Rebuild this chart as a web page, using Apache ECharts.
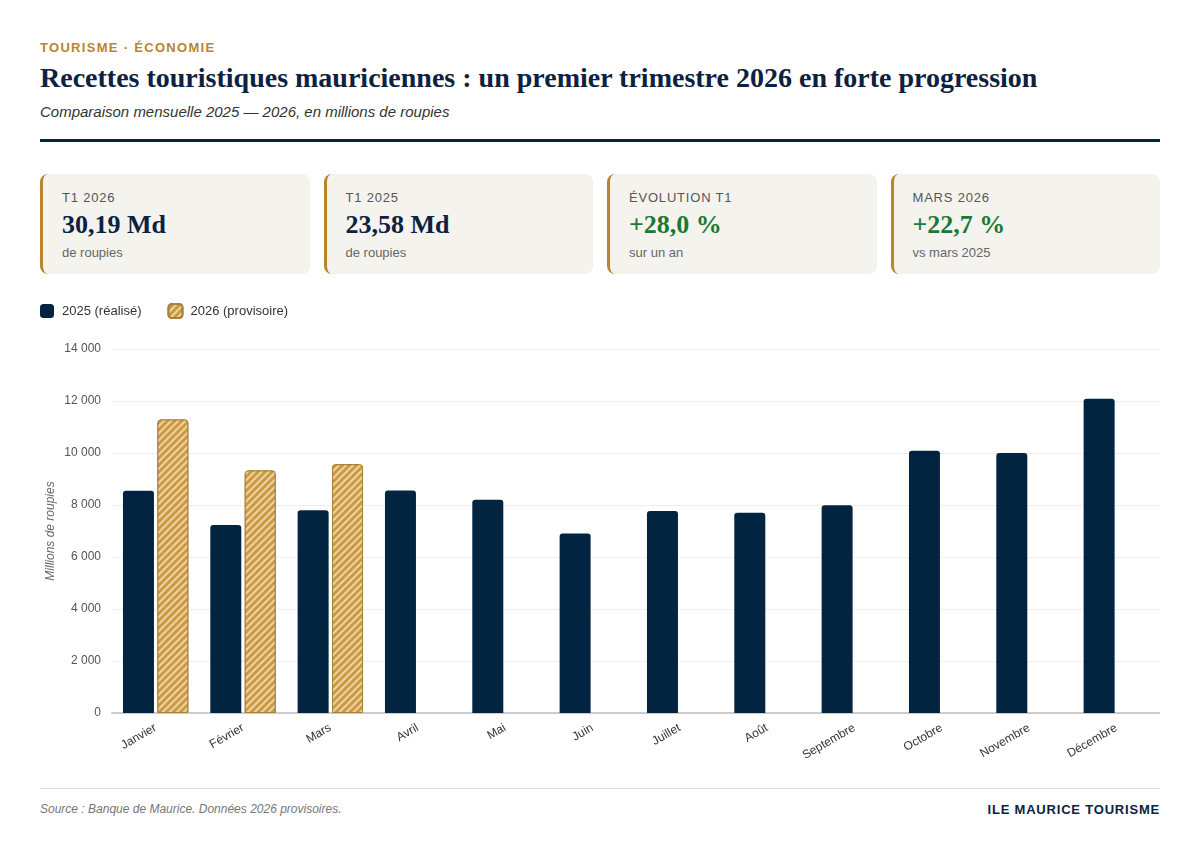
<!DOCTYPE html>
<html lang="fr">
<head>
  <meta charset="UTF-8">
  <title>Recettes touristiques mauriciennes</title>
  <style>
    * { margin: 0; padding: 0; box-sizing: border-box; }
    body { width: 1200px; height: 856px; background: #ffffff; font-family: "Liberation Sans", Arial, sans-serif; color: #0d2140; position: relative; }
    .page { position: absolute; left: 40px; right: 40px; top: 0; bottom: 0; }
    .tag { position: absolute; top: 40px; font-size: 13px; font-weight: bold; letter-spacing: 1.3px; color: #b8862b; }
    .title { position: absolute; top: 62px; font-family: "Liberation Serif", "Times New Roman", serif; font-weight: bold; font-size: 28px; color: #0d2140; white-space: nowrap; }
    .subtitle { position: absolute; top: 103px; font-size: 15px; font-style: italic; color: #333; }
    .rule { position: absolute; top: 139px; left: 0; right: 0; height: 3px; background: #0d2140; }
    .cards { position: absolute; top: 174px; left: 0; right: 0; display: flex; gap: 14px; }
    .card { flex: 1; height: 100px; background: #f5f3ee; border-left: 3px solid #b8862b; border-radius: 8px; padding: 16px 0 0 19px; }
    .card-label { font-size: 13px; letter-spacing: 0.8px; color: #555; }
    .card-value { margin-top: 5px; font-family: "Liberation Serif", "Times New Roman", serif; font-weight: bold; font-size: 26px; color: #0d2140; line-height: 30px; }
    .card-value.up { color: #1a7a35; }
    .card-sub { margin-top: 5px; font-size: 13px; color: #666; }
    #chart { position: absolute; top: 296px; left: 0; right: 0; height: 490px; }
    .footer-rule { position: absolute; top: 788px; left: 0; right: 0; height: 1px; background: #dddddd; }
    .source { position: absolute; top: 802px; font-size: 12px; font-style: italic; color: #777; }
    .brand { position: absolute; top: 802px; right: 0; font-size: 13px; font-weight: bold; letter-spacing: 0.8px; color: #0d2140; }
  </style>
</head>
<body>
  <div class="page">
    <div class="tag">TOURISME · ÉCONOMIE</div>
    <div class="title">Recettes touristiques mauriciennes : un premier trimestre 2026 en forte progression</div>
    <div class="subtitle">Comparaison mensuelle 2025 — 2026, en millions de roupies</div>
    <div class="rule"></div>

    <div class="cards">
      <div class="card">
        <p class="card-label">T1 2026</p>
        <p class="card-value">30,19 Md</p>
        <p class="card-sub">de roupies</p>
      </div>
      <div class="card">
        <p class="card-label">T1 2025</p>
        <p class="card-value">23,58 Md</p>
        <p class="card-sub">de roupies</p>
      </div>
      <div class="card">
        <p class="card-label">ÉVOLUTION T1</p>
        <p class="card-value up">+28,0 %</p>
        <p class="card-sub">sur un an</p>
      </div>
      <div class="card">
        <p class="card-label">MARS 2026</p>
        <p class="card-value up">+22,7 %</p>
        <p class="card-sub">vs mars 2025</p>
      </div>
    </div>

    <div id="chart"></div>

    <div class="footer-rule"></div>
    <div class="source">Source : Banque de Maurice. Données 2026 provisoires.</div>
    <div class="brand">ILE MAURICE TOURISME</div>
  </div>

  <script src="https://cdn.jsdelivr.net/npm/echarts@6/dist/echarts.min.js"></script>
  <script type="text/javascript">
  var months = ['Janvier', 'Février', 'Mars', 'Avril', 'Mai', 'Juin', 'Juillet', 'Août', 'Septembre', 'Octobre', 'Novembre', 'Décembre'];
  var values2025 = [8550, 7230, 7800, 8560, 8200, 6900, 7770, 7700, 7990, 10090, 10000, 12090];
  var values2026 = [11290, 9330, 9570, null, null, null, null, null, null, null, null, null];
  var yTicks = [0, 2000, 4000, 6000, 8000, 10000, 12000, 14000];
  var yAxisName = 'Millions de roupies';

  function fmt(v) {
    return String(v).replace(/\B(?=(\d{3})+(?!\d))/g, ' ');
  }

  function main () {
    var chart = echarts.init(document.getElementById('chart'));
    var option = {
      animation: false,
      textStyle: { fontFamily: '"Liberation Sans", Arial, sans-serif' },
      legend: {
        left: 0, top: 7, padding: 0,
        itemWidth: 14, itemHeight: 14, itemGap: 26,
        textStyle: { fontSize: 13, color: '#333', padding: [0, 0, 0, 3] },
        data: ['2025 (réalisé)', '2026 (provisoire)']
      },
      // axis name drawn by hand: v6 pushed it against the edge
      graphic: [{
        type: 'text',
        x: 11, y: 235,
        rotation: Math.PI / 2,
        style: {
          text: yAxisName,
          fontSize: 12, fontStyle: 'italic', fill: '#666',
          fontFamily: '"Liberation Sans", Arial, sans-serif',
          textAlign: 'center', textVerticalAlign: 'middle'
        }
      }],
      grid: { left: 72, right: 0, top: 53, bottom: 73, outerBoundsMode: 'none' },
      xAxis: {
        type: 'category',
        data: months,
        axisTick: { show: false },
        axisLine: { lineStyle: { color: '#cccccc', width: 2 } },
        axisLabel: { rotate: 30, fontSize: 12, color: '#333', margin: 14 }
      },
      yAxis: {
        type: 'value',
        min: yTicks[0], max: yTicks[yTicks.length - 1], interval: 2000,
        axisLabel: { fontSize: 12, color: '#555', margin: 11, formatter: fmt },
        splitLine: { lineStyle: { color: '#eeeeee' } }
      },
      series: [
        {
          name: '2025 (réalisé)',
          type: 'bar',
          data: values2025,
          barWidth: 31,
          barGap: '11%',
          itemStyle: { color: '#032441', borderRadius: [3, 3, 0, 0] }
        },
        {
          name: '2026 (provisoire)',
          type: 'bar',
          data: values2026,
          barWidth: 31,
          itemStyle: {
            color: '#cc9a45',
            borderColor: '#a8823a',
            borderWidth: 1,
            borderRadius: [3, 3, 0, 0],
            decal: {
              symbol: 'rect',
              color: 'rgba(246, 226, 186, 0.8)',
              dashArrayX: [1, 0],
              dashArrayY: [2, 2.5],
              rotation: -Math.PI / 4
            }
          }
        }
      ]
    };
    chart.setOption(option);
  }

  window.addEventListener('load', main);
  </script>
</body>
</html>
